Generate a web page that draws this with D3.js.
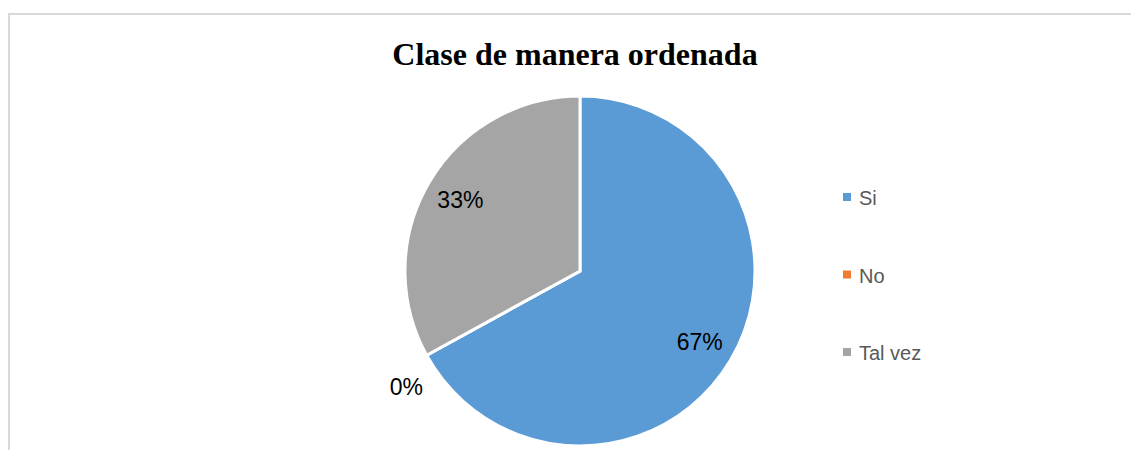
<!DOCTYPE html>
<html>
<head>
<meta charset="utf-8">
<script src="https://cdn.jsdelivr.net/npm/d3@7"></script>
<style>
  body { margin: 0; background: #fff; }
  svg { display: block; }
</style>
</head>
<body>
<svg width="1131" height="450"></svg>
<script>
// chart data
const categories = ['Si', 'No', 'Tal vez'];
const values = [67, 0, 33];
const labels = ['67%', '0%', '33%'];
const colors = ['#5b9bd5', '#ed7d31', '#a5a5a5'];
const title = 'Clase de manera ordenada';

const svg = d3.select('svg');
const cx = 580, cy = 271, radius = 175;

// chart area border (runs off right and bottom)
svg.append('rect')
  .attr('x', 9)
  .attr('y', 14)
  .attr('width', 1140)
  .attr('height', 460)
  .attr('fill', 'none')
  .attr('stroke', '#d9d9d9')
  .attr('stroke-width', 2);

svg.append('text')
  .attr('x', 575)
  .attr('y', 65)
  .attr('text-anchor', 'middle')
  .attr('font-family', '"Liberation Serif", "Times New Roman", serif')
  .attr('font-weight', 'bold')
  .attr('font-size', '32px')
  .attr('fill', '#000')
  .text(title);

const pie = d3.pie().sort(null).value((d) => d);
const arcs = pie(values);
const arc = d3.arc().innerRadius(0).outerRadius(radius);
const labelArc = d3.arc().innerRadius(139).outerRadius(139);
const outerArc = d3.arc().innerRadius(205).outerRadius(205);

const g = svg.append('g').attr('transform', `translate(${cx},${cy})`);

g.selectAll('path')
  .data(arcs)
  .enter()
  .append('path')
  .attr('d', arc)
  .attr('fill', (d, i) => colors[i])
  .attr('stroke', '#fff')
  .attr('stroke-width', 3);

// data labels, zero slices go outside
g.selectAll('text')
  .data(arcs)
  .enter()
  .append('text')
  .attr('transform', (d) => {
    if (d.value === 0) {
      const c = outerArc.centroid(d);
      return `translate(${c[0] + 6},${c[1] + 17})`;
    }
    const c = labelArc.centroid(d);
    return `translate(${c})`;
  })
  .attr('dy', '0.35em')
  .attr('text-anchor', 'middle')
  .attr('font-family', '"Liberation Sans", Arial, sans-serif')
  .attr('font-size', '23px')
  .attr('fill', '#000')
  .text((d, i) => labels[i]);

// legend
const legendY = d3.scalePoint().domain(categories).range([197, 352]);
const legend = svg.append('g')
  .selectAll('g')
  .data(categories)
  .enter()
  .append('g')
  .attr('transform', (d) => `translate(843,${legendY(d)})`);

legend.append('rect')
  .attr('x', 0)
  .attr('y', -4)
  .attr('width', 8)
  .attr('height', 8)
  .attr('fill', (d, i) => colors[i]);

legend.append('text')
  .attr('x', 16)
  .attr('y', 8)
  .attr('font-family', '"Liberation Sans", Arial, sans-serif')
  .attr('font-size', '20px')
  .attr('fill', '#595959')
  .text((d) => d);
</script>
</body>
</html>
